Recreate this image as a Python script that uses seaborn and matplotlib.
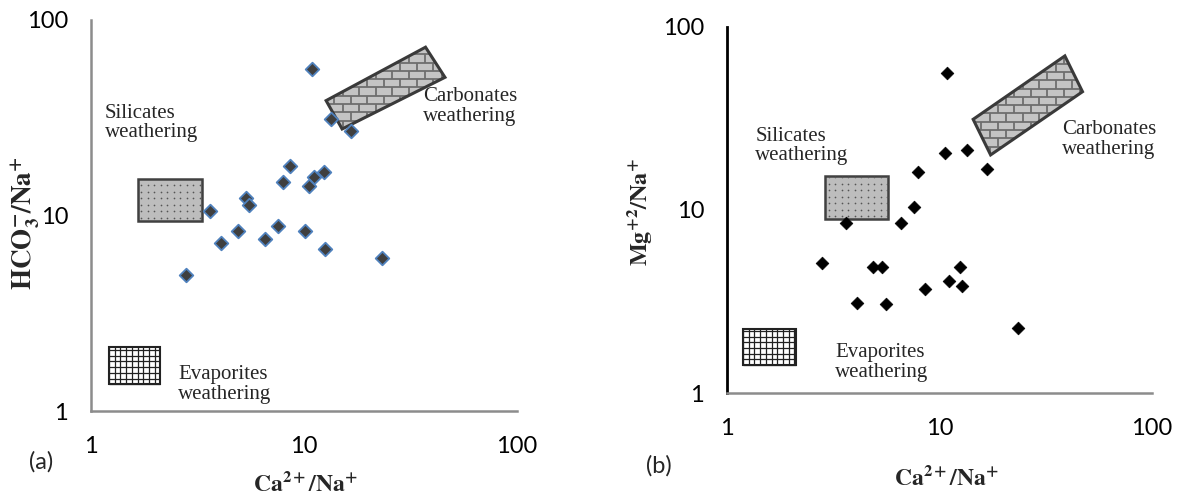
import numpy as np
import pandas as pd
import matplotlib
matplotlib.use("Agg")
import matplotlib.pyplot as plt
import seaborn as sns
from matplotlib.patches import Polygon, Rectangle
from matplotlib.collections import LineCollection

# ---------------- data ----------------
ca_na_a = [10.9, 13.4, 16.7, 8.57, 12.4, 11.1, 7.97, 10.5, 5.36, 5.54,
           3.61, 4.90, 7.52, 10.1, 4.06, 6.56, 12.6, 23.2, 2.78]
hco3_na_a = [56.3, 31.0, 26.9, 18.0, 16.6, 15.7, 14.9, 14.2, 12.3, 11.3,
             10.5, 8.31, 8.79, 8.38, 7.25, 7.56, 6.76, 6.05, 4.97]

ca_na_b = [10.9, 10.6, 13.5, 16.7, 7.96, 7.57, 6.59, 3.63, 2.80, 4.86,
           5.37, 12.5, 11.1, 12.7, 8.56, 4.09, 5.60, 23.4]
mg_na_b = [55.8, 20.5, 21.2, 16.8, 16.1, 10.4, 8.53, 8.53, 5.15, 4.89,
           4.89, 4.89, 4.11, 3.84, 3.70, 3.09, 3.07, 2.27]

tick_vals = [1, 10, 100]
tick_labels = ["1", "10", "100"]

# end-member regions (x0, x1, y0, y1) and carbonate polygons
sil_a = (1.66, 3.33, 9.35, 15.3)
evap_a = (1.215, 2.11, 1.37, 2.12)
carb_a = [(12.7, 38.7), (37.2, 72.6), (45.9, 50.9), (15.1, 27.7)]
sil_b = (2.90, 5.73, 8.9, 15.4)
evap_b = (1.19, 2.12, 1.42, 2.23)
carb_b = [(14.4, 31.3), (38.9, 69.5), (47.1, 44.3), (17.4, 20.0)]

# label anchors (left, top)
txt_a = {"sil": (1.16, 37.4), "carb": (36.2, 45.2), "evap": (2.56, 1.71)}
txt_b = {"sil": (1.36, 28.5), "carb": (37.9, 31.0), "evap": (3.23, 1.87)}

df_a = pd.DataFrame({"x": ca_na_a, "y": hco3_na_a})
df_b = pd.DataFrame({"x": ca_na_b, "y": mg_na_b})

sns.set_theme(style="white")
plt.rcParams["font.family"] = ["Lato", "DejaVu Sans"]
plt.rcParams["mathtext.fontset"] = "stix"

fig = plt.figure(figsize=(11.78, 4.97), dpi=100)
W, H = 1178, 497
ax_a = fig.add_axes([91 / W, (H - 411) / H, (517 - 91) / W, (411 - 20) / H])
ax_b = fig.add_axes([727 / W, (H - 393) / H, (1152 - 727) / W, (393 - 27) / H])

GRAY = "#8c8c8c"
SERIF = ["Liberation Serif", "DejaVu Serif"]


def to_frac(x, y):
    return np.log10(x) / 2.0, np.log10(y) / 2.0


def px_size(ax):
    b = ax.get_position()
    return b.width * W, b.height * H


def add_silicates(ax, r):
    x0, x1, y0, y1 = r
    rect = Rectangle((x0, y0), x1 - x0, y1 - y0, facecolor="#bdbdbd",
                     edgecolor="#404040", lw=1.8, zorder=2)
    ax.add_patch(rect)
    pw, ph = px_size(ax)
    fx0, fy0 = to_frac(x0, y0)
    fx1, fy1 = to_frac(x1, y1)
    dx, dy = 6.5 / pw, 6.5 / ph
    pts = [(xx, yy) for yy in np.arange(fy0 + dy / 2, fy1, dy)
           for xx in np.arange(fx0 + dx / 2, fx1, dx)]
    pts = np.array(pts)
    ax.scatter(pts[:, 0], pts[:, 1], s=1.5, color="#555555", lw=0,
               transform=ax.transAxes, zorder=3)


def add_evaporites(ax, r):
    x0, x1, y0, y1 = r
    rect = Rectangle((x0, y0), x1 - x0, y1 - y0, facecolor="white",
                     edgecolor="#222222", lw=1.5, zorder=2)
    ax.add_patch(rect)
    pw, ph = px_size(ax)
    fx0, fy0 = to_frac(x0, y0)
    fx1, fy1 = to_frac(x1, y1)
    dx, dy = 5.7 / pw, 5.7 / ph
    segs = [[(xx, fy0), (xx, fy1)] for xx in np.arange(fx0, fx1, dx)]
    segs += [[(fx0, yy), (fx1, yy)] for yy in np.arange(fy0, fy1, dy)]
    lc = LineCollection(segs, colors="#222222", linewidths=0.9,
                        transform=ax.transAxes, zorder=3)
    ax.add_collection(lc, autolim=False)


def add_carbonates(ax, corners):
    poly = Polygon(corners, closed=True, facecolor="#c4c4c4",
                   edgecolor="none", zorder=2)
    ax.add_patch(poly)
    pw, ph = px_size(ax)
    fr = [to_frac(x, y) for x, y in corners]
    fx = [p[0] for p in fr]
    fy = [p[1] for p in fr]
    dx, dy = 16.5 / pw, 8.3 / ph
    segs = []
    for i, yy in enumerate(np.arange(min(fy), max(fy) + dy, dy)):
        segs.append([(min(fx), yy), (max(fx), yy)])
        off = dx / 2 if i % 2 else 0
        for xx in np.arange(min(fx) - dx + off, max(fx) + dx, dx):
            segs.append([(xx, yy), (xx, yy + dy)])
    lc = LineCollection(segs, colors="#6e6e6e", linewidths=1.3,
                        transform=ax.transAxes, zorder=3)
    ax.add_collection(lc, autolim=False)
    lc.set_clip_path(poly)
    edge = Polygon(corners, closed=True, facecolor="none",
                   edgecolor="#3a3a3a", lw=2.2, zorder=4)
    ax.add_patch(edge)


def style_axes(ax, left_color, left_lw):
    ax.set_xscale("log")
    ax.set_yscale("log")
    ax.set_xlim(1, 100)
    ax.set_ylim(1, 100)
    ax.set_xticks(tick_vals)
    ax.set_xticklabels(tick_labels)
    ax.set_yticks(tick_vals)
    ax.set_yticklabels(tick_labels)
    ax.minorticks_off()
    for s in ["top", "right"]:
        ax.spines[s].set_visible(False)
    ax.spines["bottom"].set_color(GRAY)
    ax.spines["bottom"].set_linewidth(1.8)
    ax.spines["left"].set_color(left_color)
    ax.spines["left"].set_linewidth(left_lw)
    ax.tick_params(axis="x", direction="out", length=6, width=1.5,
                   color=GRAY, labelsize=17, pad=12, labelcolor="black")
    ax.tick_params(axis="y", direction="out", length=6.5, width=1.5,
                   color=left_color, labelsize=17, pad=10,
                   labelcolor="black")
    ax.grid(False)
    ax.set_xlabel("")
    ax.set_ylabel("")


def annotate(ax, t):
    kw = dict(family=SERIF, fontsize=15, va="top", ha="left",
              linespacing=1.05, zorder=5)
    ax.text(*t["sil"], "Silicates\nweathering", **kw)
    ax.text(*t["carb"], "Carbonates\nweathering", **kw)
    ax.text(*t["evap"], "Evaporites\nweathering", **kw)


# ---------------- panel (a) ----------------
add_silicates(ax_a, sil_a)
add_evaporites(ax_a, evap_a)
add_carbonates(ax_a, carb_a)
sns.scatterplot(data=df_a, x="x", y="y", ax=ax_a, marker="D", s=48,
                color="#3f3f3f", edgecolor="#4f81bd", linewidth=1.3,
                zorder=6, clip_on=False)
style_axes(ax_a, GRAY, 1.8)
annotate(ax_a, txt_a)

# ---------------- panel (b) ----------------
add_silicates(ax_b, sil_b)
add_evaporites(ax_b, evap_b)
add_carbonates(ax_b, carb_b)
sns.scatterplot(data=df_b, x="x", y="y", ax=ax_b, marker="D", s=42,
                color="black", edgecolor="black", linewidth=0.5,
                zorder=6, clip_on=False)
style_axes(ax_b, "black", 2.0)
annotate(ax_b, txt_b)

# axis titles
fig.text(306 / W, 1 - 483 / H, r"$\mathbf{Ca^{2+}/Na^{+}}$", ha="center",
         va="center", fontsize=17)
fig.text(947 / W, 1 - 477 / H, r"$\mathbf{Ca^{2+}/Na^{+}}$", ha="center",
         va="center", fontsize=17)
fig.text(25 / W, 1 - 223 / H, r"$\mathbf{HCO_{3}^{-}/Na^{+}}$",
         rotation=90, ha="center", va="center", fontsize=19.5)
fig.text(640 / W, 1 - 212 / H, r"$\mathbf{Mg^{+2}/Na^{+}}$",
         rotation=90, ha="center", va="center", fontsize=17.5)

fig.text(41 / W, 1 - 462 / H, "(a)", ha="center", va="center", fontsize=17)
fig.text(659 / W, 1 - 466 / H, "(b)", ha="center", va="center", fontsize=17)

fig.savefig("out.png", dpi=100)
